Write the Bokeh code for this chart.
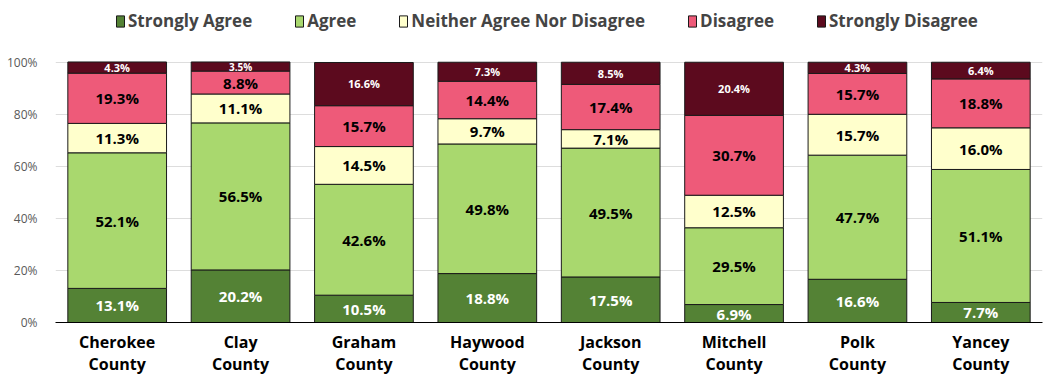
from bokeh.plotting import figure
from bokeh.models import ColumnDataSource, Legend, LegendItem, FactorRange, Range1d
from bokeh.core.properties import value
from bokeh.embed import file_html
from bokeh.resources import INLINE

counties = ["Cherokee\nCounty", "Clay\nCounty", "Graham\nCounty", "Haywood\nCounty",
            "Jackson\nCounty", "Mitchell\nCounty", "Polk\nCounty", "Yancey\nCounty"]
series = ["Strongly Agree", "Agree", "Neither Agree Nor Disagree", "Disagree", "Strongly Disagree"]
strongly_agree = [13.1, 20.2, 10.5, 18.8, 17.5, 6.9, 16.6, 7.7]
agree = [52.1, 56.5, 42.6, 49.8, 49.5, 29.5, 47.7, 51.1]
neither = [11.3, 11.1, 14.5, 9.7, 7.1, 12.5, 15.7, 16.0]
disagree = [19.3, 8.8, 15.7, 14.4, 17.4, 30.7, 15.7, 18.8]
strongly_disagree = [4.3, 3.5, 16.6, 7.3, 8.5, 20.4, 4.3, 6.4]
y_ticks = [0, 20, 40, 60, 80, 100]

colors = ["#548235", "#A9D86E", "#FFFFCC", "#EE5A79", "#5C0A1E"]
text_colors = ["white", "black", "black", "black", "white"]
FONT = "Open Sans"

vals = [strongly_agree, agree, neither, disagree, strongly_disagree]
keys = ["sa", "a", "n", "d", "sd"]
data = {"county": counties}
for k, v in zip(keys, vals):
    data[k] = v
source = ColumnDataSource(data)

p = figure(x_range=FactorRange(*counties, range_padding=0), y_range=Range1d(0, 121.8),
           width=1045, height=377, output_backend="svg", toolbar_location=None,
           min_border_left=55, min_border_right=3, min_border_bottom=20, min_border_top=5)

renderers = p.vbar_stack(keys, x="county", width=0.8, source=source, color=colors,
                         line_color="#1a1a1a", line_width=1)

# labels
for i, (k, v) in enumerate(zip(keys, vals)):
    bottoms = [sum(vals[j][c] for j in range(i)) for c in range(len(counties))]
    centers = [b + x / 2 for b, x in zip(bottoms, v)]
    if i == 4:
        centers = [100 - x / 2 for x in v]
    lab = [f"{x:.1f}%" for x in v]
    sizes = [("10px" if x < 4 else "11px") if i == 4 else "15px" for x in v]
    src = ColumnDataSource(dict(x=counties, y=centers, t=lab, s=sizes))
    p.text(x="x", y="y", text="t", source=src, text_align="center", text_baseline="middle",
           text_font=value(FONT), text_font_style="bold",
           text_font_size="s", text_color=text_colors[i])

legend = Legend(items=[LegendItem(label=s, renderers=[r]) for s, r in zip(series, renderers)],
                orientation="horizontal", location=(60, 290), label_text_font=FONT,
                label_text_font_style="bold", label_text_font_size="17px",
                glyph_width=10, glyph_height=14, spacing=42, label_standoff=3,
                border_line_color=None, background_fill_alpha=0, margin=0, padding=0)
p.add_layout(legend, "center")

p.yaxis.ticker = y_ticks
p.yaxis.major_label_overrides = {t: f"{t}%" for t in y_ticks}
p.yaxis.axis_line_color = None
p.yaxis.major_tick_line_color = None
p.yaxis.minor_tick_line_color = None
p.yaxis.major_label_text_font = FONT
p.yaxis.major_label_text_font_size = "12px"
p.yaxis.major_label_text_color = "#595959"
p.yaxis.major_label_standoff = 12

p.xaxis.axis_line_color = "black"
p.xaxis.major_tick_line_color = None
p.xaxis.major_tick_out = 0
p.xaxis.major_label_text_font = FONT
p.xaxis.major_label_text_font_style = "bold"
p.xaxis.major_label_text_font_size = "16px"
p.xaxis.major_label_text_line_height = 1.0
p.xaxis.major_label_text_color = "black"
p.xaxis.major_label_standoff = 8

p.xgrid.grid_line_color = None
p.ygrid.grid_line_color = "#dddddd"
p.outline_line_color = None

open("out.html", "w").write(file_html(p, INLINE))
